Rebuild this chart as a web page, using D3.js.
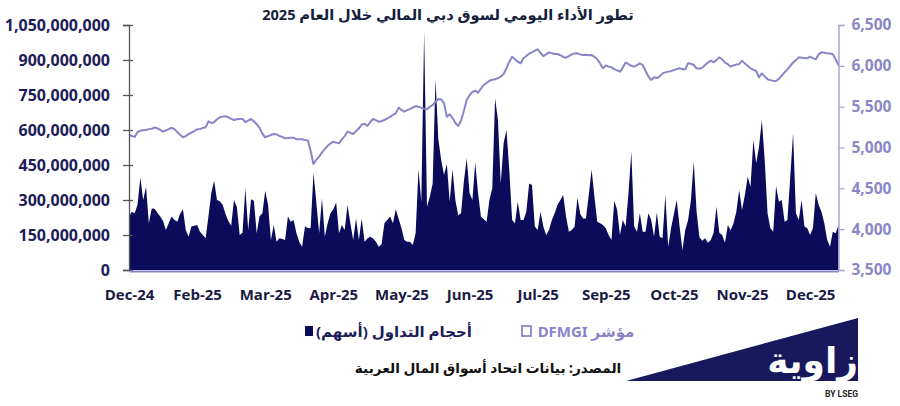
<!DOCTYPE html>
<html><head><meta charset="utf-8">
<script src="https://cdn.jsdelivr.net/npm/d3@7"></script>
<style>
body{margin:0;background:#fff;}
svg{display:block;}
</style></head>
<body><svg id="chart" width="900" height="406"></svg>
<script>
// Daily traded volume (millions of shares)
const volume = [
230,250,243,280,396,300,357,200,264,262,
245,229,210,171,200,229,215,207,240,260,
171,143,186,190,193,164,150,136,230,330,
383,300,295,280,240,210,190,300,270,150,
160,350,171,303,297,157,230,243,340,280,
129,193,121,136,133,129,229,207,214,157,
120,100,186,180,179,417,290,157,307,143,
200,243,260,289,157,193,171,279,200,129,
221,129,221,121,135,143,135,121,100,110,
200,214,229,200,260,220,180,129,121,121,
107,157,431,293,1021,271,314,371,820,560,
471,407,454,293,433,300,235,243,380,479,
330,300,460,329,229,217,207,300,350,736,
643,371,543,600,429,214,200,293,214,214,
250,371,364,186,171,250,186,150,171,214,
243,280,300,321,229,164,171,185,310,240,
221,221,320,431,314,207,200,193,179,150,
129,297,257,150,214,186,330,507,186,164,
243,164,164,243,214,143,246,143,136,321,
100,179,240,300,186,86,171,214,300,464,
250,140,125,136,117,129,160,271,160,150,
117,193,170,200,250,343,257,320,400,357,
557,457,529,643,471,243,179,164,360,293,
300,207,214,400,586,243,214,300,186,179,
150,180,330,280,250,200,130,100,164,157,
193
];
// DFMGI index close
const dfmgi = [
5160,5140,5130,5190,5205,5210,5215,5225,5230,5245,
5235,5215,5195,5210,5225,5242,5225,5190,5155,5125,
5140,5165,5181,5200,5223,5225,5240,5247,5320,5300,
5310,5345,5370,5378,5382,5370,5350,5337,5345,5350,
5350,5312,5330,5349,5320,5285,5240,5170,5125,5140,
5153,5165,5160,5141,5130,5112,5115,5120,5120,5100,
5100,5100,5092,5090,4960,4798,4850,4888,4940,4980,
5020,5050,5071,5060,5051,5100,5140,5194,5180,5165,
5200,5235,5280,5290,5263,5310,5349,5335,5316,5325,
5337,5355,5375,5400,5418,5488,5460,5439,5459,5470,
5490,5505,5500,5485,5475,5468,5500,5520,5560,5594,
5590,5540,5377,5406,5360,5300,5263,5330,5450,5582,
5640,5680,5696,5672,5720,5765,5790,5818,5830,5835,
5850,5867,5900,5970,6050,6112,6080,6050,6031,6092,
6120,6150,6165,6185,6202,6160,6120,6140,6165,6155,
6145,6145,6130,6110,6100,6120,6140,6150,6153,6140,
6133,6135,6130,6133,6110,6080,6030,5970,6005,5990,
5982,5960,5945,5929,5980,6041,6020,6000,5990,6010,
6031,6010,5940,5870,5827,5860,5850,5870,5908,5920,
5929,5935,5949,5960,5970,5960,5957,6031,6025,6010,
5970,5965,5978,6010,6040,6063,6043,6070,6104,6080,
6040,6020,5990,6005,6015,6022,6063,6030,6000,5970,
5950,5937,5860,5908,5870,5835,5825,5818,5814,5840,
5880,5920,5957,6000,6041,6070,6104,6100,6095,6092,
6112,6095,6080,6140,6165,6160,6153,6150,6141,6080,
6010
];
const xTickLabels = ["Dec-24","Feb-25","Mar-25","Apr-25","May-25","Jun-25","Jul-25","Sep-25","Oct-25","Nov-25","Dec-25"];
const volumeTicks = [0,150,300,450,600,750,900,1050];
const indexTicks = [3500,4000,4500,5000,5500,6000,6500];
const labelEvery = 24;

const title = "تطور الأداء اليومي لسوق دبي المالي خلال العام 2025";
const legendVolume = "أحجام التداول (أسهم)";
const legendIndex = "مؤشر DFMGI";
const source = "المصدر: بيانات اتحاد أسواق المال العربية";

const NAVY = "#0b0b5c", LAV = "#8985c8";
const numFont = "'Open Sans', 'DejaVu Sans', sans-serif";
const arFont = "'Noto Sans', 'DejaVu Sans', sans-serif";

const svg = d3.select("#chart");
const L = 129, R = 838.5, T = 25, B = 270;

const x = d3.scaleLinear().domain([0, volume.length - 1]).range([L, R]);
const yV = d3.scaleLinear().domain([0, 1050]).range([B, T]);
const yI = d3.scaleLinear().domain([3500, 6500]).range([B, T]);

// title
svg.append("text").attr("x", 448).attr("y", 20).attr("text-anchor", "middle")
  .attr("direction", "rtl")
  .style("font-family", arFont).style("font-weight", 700).style("font-size", "14.6px")
  .attr("fill", "#14203c").text(title);

const line = d3.line().x((d, i) => x(i)).y(d => yI(d));
const area = d3.area().x((d, i) => x(i)).y0(yV(0)).y1(d => yV(d));
svg.append("path").datum(volume).attr("d", area).attr("fill", NAVY);
svg.append("path").datum(dfmgi).attr("d", line).attr("fill", "none")
  .attr("stroke", LAV).attr("stroke-width", 2).attr("stroke-linejoin", "round");

// left axis
const gL = svg.append("g").attr("transform", `translate(${L},0)`)
  .call(d3.axisLeft(yV).tickValues(volumeTicks).tickSize(6).tickPadding(13)
    .tickFormat(d => d3.format(",")(d * 1e6)));
gL.select(".domain").attr("stroke", "#555").attr("stroke-width", 1.3);
gL.selectAll(".tick line").attr("x1", 4).attr("stroke", "#555").attr("stroke-width", 1.3);
gL.selectAll(".tick text").style("font-family", numFont).style("font-weight", 700)
  .style("font-size", "16px").attr("fill", "#1c1c5a");

// right axis
const gR = svg.append("g").attr("transform", `translate(${R},0)`)
  .call(d3.axisRight(yI).tickValues(indexTicks).tickSize(6).tickPadding(7)
    .tickFormat(d3.format(",")));
gR.select(".domain").attr("stroke", "#aaa7d6").attr("stroke-width", 1.5);
gR.selectAll(".tick line").attr("stroke", "#aaa7d6").attr("stroke-width", 1.3);
gR.selectAll(".tick text").style("font-family", numFont).style("font-weight", 700)
  .style("font-size", "15.5px").attr("fill", "#8a87c6");

// bottom axis
const tickIdx = xTickLabels.map((_, k) => k * labelEvery);
const gB = svg.append("g").attr("transform", `translate(0,${B + 1})`)
  .call(d3.axisBottom(x).tickValues(tickIdx).tickSize(0).tickPadding(18)
    .tickFormat((d, k) => xTickLabels[k]));
gB.select(".domain").attr("stroke", LAV).attr("stroke-width", 2);
gB.selectAll(".tick text").style("font-family", numFont).style("font-weight", 700)
  .style("font-size", "15px").attr("fill", "#1a1a44");

// legend
svg.append("rect").attr("x", 305).attr("y", 326).attr("width", 8).attr("height", 10).attr("fill", NAVY);
svg.append("text").attr("x", 394).attr("y", 337).attr("text-anchor", "middle").attr("direction", "rtl")
  .style("font-family", arFont).style("font-weight", 700).style("font-size", "15px")
  .attr("fill", "#1c1c5a").text(legendVolume);
svg.append("rect").attr("x", 522).attr("y", 326).attr("width", 9).attr("height", 10)
  .attr("fill", "none").attr("stroke", LAV).attr("stroke-width", 1.8);
svg.append("text").attr("x", 586).attr("y", 337).attr("text-anchor", "middle").attr("direction", "rtl")
  .style("font-family", arFont).style("font-weight", 700).style("font-size", "15px")
  .attr("fill", LAV).text(legendIndex);

// source
svg.append("text").attr("x", 488).attr("y", 373).attr("text-anchor", "middle").attr("direction", "rtl")
  .style("font-family", arFont).style("font-weight", 700).style("font-size", "13.7px")
  .attr("fill", "#111").text(source);

// logo
svg.append("polygon").attr("points", "626,381 858,318 858,381").attr("fill", "#17195c");
svg.append("text").attr("x", 858).attr("y", 373).attr("text-anchor", "start").attr("direction", "rtl")
  .style("font-family", arFont).style("font-weight", 700).style("font-size", "36px")
  .attr("fill", "#fff").text("زاوية");
svg.append("text").attr("x", 858).attr("y", 397).attr("text-anchor", "end")
  .style("font-family", "'Roboto', sans-serif").style("font-weight", 700).style("font-size", "8.5px")
  .attr("fill", "#222").text("BY LSEG");
</script>
</body></html>
